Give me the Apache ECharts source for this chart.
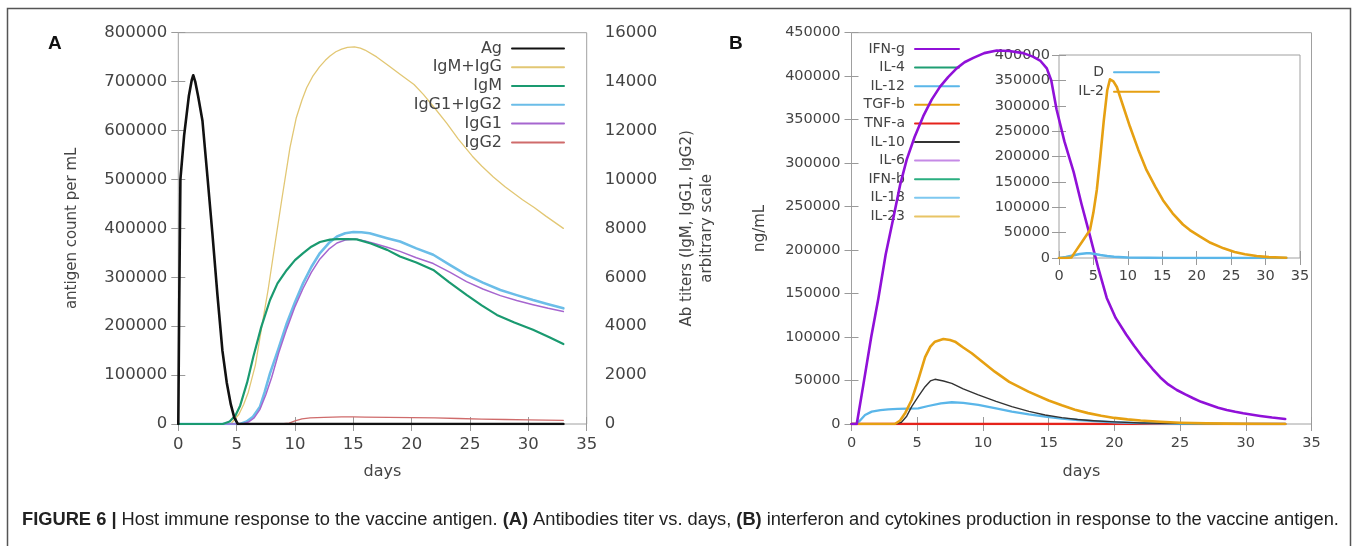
<!DOCTYPE html>
<html>
<head>
<meta charset="utf-8">
<script src="https://cdn.jsdelivr.net/npm/echarts@6/dist/echarts.min.js"></script>
<style>
html,body{margin:0;padding:0;background:#fff;}
#chart{width:1357px;height:546px;}
</style>
</head>
<body>
<div id="chart"></div>
<script>
// ---------- Panel A : antibody titers ----------
const agCount = [[0,0],[0.08,250000],[0.18,500000],[0.5,590000],[0.9,670000],[1.15,703000],[1.28,713000],[1.45,700000],[1.7,670000],[2.07,620000],[2.5,505000],[2.92,390000],[3.35,265000],[3.78,150000],[4.15,85000],[4.5,40000],[4.8,13000],[5.1,0],[33,0]];
const igmIgg = [[0,0],[4.5,0],[5.2,400],[5.6,800],[6.0,1300],[6.6,2400],[7.2,4100],[7.7,5500],[8.3,7400],[8.86,9150],[9.57,11300],[10.1,12500],[10.6,13250],[11,13750],[11.5,14200],[12.1,14600],[12.6,14870],[13,15050],[13.5,15220],[14,15330],[14.5,15400],[15.1,15420],[15.6,15370],[16,15290],[17,15010],[18,14660],[19,14300],[20.2,13880],[21,13480],[22,12900],[23,12300],[24,11650],[25.2,10950],[26,10550],[27,10100],[28,9700],[29.5,9170],[30.5,8850],[31.5,8500],[33,8000]];
const igm = [[0,0],[3.8,0],[4.4,100],[4.9,350],[5.3,750],[5.9,1700],[6.43,2750],[7.1,3950],[7.86,5070],[8.5,5750],[9.3,6300],[10,6700],[10.7,6990],[11.4,7250],[12.14,7440],[13,7540],[13.6,7560],[14.5,7560],[15.3,7550],[16.5,7380],[17.9,7120],[19,6850],[20.4,6600],[21.85,6300],[23.2,5800],[24.7,5280],[26,4850],[27.3,4460],[28.8,4150],[30.4,3850],[31.8,3550],[33,3270]];
const igg1igg2 = [[0,0],[5.3,0],[5.86,100],[6.4,300],[7.0,710],[7.4,1300],[7.86,2070],[8.6,3100],[9.3,4120],[10,4980],[10.7,5760],[11.4,6420],[12.14,6990],[12.9,7400],[13.6,7670],[14.3,7800],[15,7850],[15.7,7840],[16.4,7800],[17.9,7600],[19,7460],[20.4,7180],[21.85,6920],[23.3,6500],[24.7,6100],[26.1,5780],[27.6,5480],[29,5270],[30.4,5070],[31.7,4900],[33,4730]];
const igg1 = [[0,0],[5.5,0],[6.0,80],[6.5,250],[7.0,600],[7.5,1200],[8,1900],[8.6,2900],[9.3,3900],[10,4800],[10.7,5550],[11.4,6200],[12.14,6750],[12.9,7150],[13.6,7400],[14.3,7520],[15.2,7560],[16,7480],[16.8,7380],[17.9,7230],[19,7060],[20.4,6800],[21.85,6560],[23.3,6200],[24.7,5820],[26.1,5520],[27.6,5250],[29,5050],[30.4,4880],[31.7,4730],[33,4600]];
const igg2 = [[0,0],[8.8,0],[9.5,40],[10,130],[10.6,210],[11.3,250],[12.5,270],[14,290],[15,295],[16,285],[18,270],[20,260],[22,250],[24,225],[26,200],[28,185],[30,170],[33,150]];

// ---------- Panel B : cytokines ----------
const ifnG = [[0,0],[0.4,0],[0.9,45000],[1.5,100000],[2.04,144000],[2.6,195000],[3.2,238000],[3.7,275000],[4.2,304000],[4.8,330000],[5.46,354000],[6.1,373000],[6.74,388000],[7.35,399000],[8.0,409000],[8.6,416000],[9.27,421000],[10.1,426500],[11.05,429500],[12,429000],[13.07,426500],[13.8,422500],[14.35,418000],[14.86,409000],[15.2,395000],[15.6,362000],[16.2,325000],[16.9,290000],[17.5,253000],[18.15,216000],[18.8,178000],[19.42,145000],[20.1,122000],[20.9,103000],[21.5,90000],[22.2,76000],[22.9,63500],[23.5,53500],[24.1,45500],[24.75,39100],[25.4,34000],[26,29600],[26.6,25500],[27.3,21800],[27.9,18800],[28.55,16100],[29.2,14000],[29.8,12300],[30.5,10600],[31.1,9200],[32,7400],[33,5800]];
const tgfB = [[0,0],[3.3,0],[3.7,4000],[4.1,13000],[4.58,27600],[5.1,52000],[5.6,77000],[6.0,89000],[6.35,94700],[6.99,97800],[7.5,96500],[7.88,94700],[8.5,88000],[9.15,81400],[10,71000],[10.9,60200],[12,48500],[13.46,37200],[15,27000],[16,21500],[17,16500],[18,12500],[19,9400],[20,7000],[21,5300],[22,4000],[23.5,2600],[25,1500],[27,700],[30,200],[33,0]];
const il10 = [[0,0],[3.3,0],[3.8,2000],[4.2,9000],[4.58,19900],[5.1,32000],[5.6,42900],[6.0,49500],[6.35,51400],[7.0,49500],[7.63,46800],[8.5,40500],[9.65,33400],[11,26000],[12.2,19900],[13.5,14500],[14.73,10400],[16,7300],[17.2,5200],[18.4,3800],[20,2400],[22,1200],[25,400],[28,100],[33,0]];
const il12 = [[0,0],[0.4,0],[0.7,5000],[1.03,10400],[1.54,14200],[2.2,16000],[2.8,16900],[3.5,17300],[4.3,17700],[5.08,18000],[5.84,20700],[6.8,23800],[7.63,25000],[8.5,24200],[9.65,21900],[11,18000],[12.2,14200],[13.5,11000],[14.73,8400],[16,6200],[17.26,4600],[18.5,3300],[20,2000],[22,1000],[25,300],[28,100],[33,0]];
const il4 = [[0,0],[33,0]];
const tnfA = [[0,0],[33,0]];
const il6 = [[0,0],[33,0]];
const ifnB = [[0,0],[33,0]];
const il18 = [[0,0],[33,0]];
const il23 = [[0,0],[33,0]];

// ---------- Panel B inset ----------
const dInset = [[0,0],[1,2000],[2,5000],[3,8000],[4,9300],[4.5,9300],[5,8500],[6,6000],[7,4000],[8,2500],[10,1000],[13,300],[16,0],[33,0]];
const il2 = [[0,0],[1,0],[1.8,1000],[2.5,15000],[3.5,35000],[4.5,55000],[5.0,90000],[5.5,135000],[6.0,200000],[6.5,270000],[7.0,330000],[7.4,352000],[7.9,348000],[8.4,337000],[9.3,300000],[10.3,259000],[11.5,214000],[12.7,173500],[14,140000],[15.1,114000],[16.5,88000],[18,66000],[19,55000],[20.5,42000],[22,30000],[23.9,19000],[25.5,12000],[27,7500],[28.7,3900],[30.5,1800],[33,500]];

const legendA = ['Ag','IgM+IgG','IgM','IgG1+IgG2','IgG1','IgG2'];
const legendB = ['IFN-g','IL-4','IL-12','TGF-b','TNF-a','IL-10','IL-6','IFN-b','IL-18','IL-23'];
const legendInset = ['D','IL-2'];
const captionText = '{b|FIGURE 6 |} Host immune response to the vaccine antigen. {b|(A)} Antibodies titer vs. days, {b|(B)} interferon and cytokines production in response to the vaccine antigen.';

const FONT = 'DejaVu Sans';
const TXT = '#444';
const TICK = '#9a9a9a';

function xAx(grid, pos, show, fs, margin, name) {
  return {
    type:'value', gridIndex:grid, position:pos, min:0, max:35, interval:5,
    axisLine:{show:false},
    axisTick:{show:true, inside:true, length:7, lineStyle:{color:TICK}},
    axisLabel:{show:show, fontFamily:FONT, fontSize:fs, color:TXT, margin:margin, formatter:v=>String(v)},
    splitLine:{show:false},
    name: name || '', nameLocation:'middle', nameGap:40,
    nameTextStyle:{fontFamily:FONT, fontSize:16, color:TXT}
  };
}
function yAx(grid, pos, max, interval, show, fs, margin, name, nameGap) {
  return {
    type:'value', gridIndex:grid, position:pos, min:0, max:max, interval:interval,
    axisLine:{show:false},
    axisTick:{show:true, inside:true, length:7, lineStyle:{color:TICK}},
    axisLabel:{show:show, fontFamily:FONT, fontSize:fs, color:TXT, margin:margin, formatter:v=>String(v)},
    splitLine:{show:false},
    name: name || '', nameLocation:'middle', nameGap:nameGap || 0, nameRotate:90,
    nameTextStyle:{fontFamily:FONT, fontSize:15, color:TXT, lineHeight:20}
  };
}
function line(name, data, color, width, xi, yi, z) {
  return {
    type:'line', name:name, data:data, xAxisIndex:xi, yAxisIndex:yi,
    showSymbol:false, symbol:'none', smooth:false,
    lineStyle:{color:color, width:width, join:'round', cap:'round'}, itemStyle:{color:color},
    z: z || 2, animation:false
  };
}
function legend(data, right, top, itemWidth, fs, lh) {
  return {
    data:data, orient:'vertical', align:'right', right:right, top:top,
    itemWidth:itemWidth, itemHeight:10, itemGap:0, padding:0, selectedMode:false,
    itemStyle:{opacity:0, borderWidth:0},
    textStyle:{fontFamily:FONT, fontSize:fs, color:TXT, lineHeight:lh, padding:[0,5,0,0]}
  };
}

const chart = echarts.init(document.getElementById('chart'), null, {renderer:'canvas'});
const option = {
  backgroundColor:'#fff',
  animation:false,
  grid:[
    {left:178.3, top:32.7, width:408.4, height:391.3, show:true, borderColor:'#a0a0a0', borderWidth:1, backgroundColor:'transparent'},
    {left:851.5, top:32.7, width:460, height:391.3, show:true, borderColor:'#a0a0a0', borderWidth:1, backgroundColor:'transparent'},
    {left:1059, top:55, width:241, height:203, show:true, borderColor:'#a0a0a0', borderWidth:1, backgroundColor:'transparent'}
  ],
  xAxis:[
    xAx(0,'bottom',true,16.5,12,'days'),
    xAx(0,'top',false,16.5,12),
    xAx(1,'bottom',true,14.5,12,'days'),
    xAx(1,'top',false,14.5,12),
    xAx(2,'bottom',true,14.5,11),
    xAx(2,'top',false,14.5,11)
  ],
  yAxis:[
    yAx(0,'left',800000,100000,true,16.5,11,'antigen count per mL',96),
    yAx(0,'right',16000,2000,true,16.5,18,'Ab titers (IgM, IgG1, IgG2)\narbitrary scale',90),
    yAx(1,'left',450000,50000,true,14.5,11,'ng/mL',81),
    yAx(1,'right',450000,50000,false,14.5,11),
    yAx(2,'left',400000,50000,true,14.5,9),
    yAx(2,'right',400000,50000,false,14.5,9)
  ],
  legend:[
    legend(legendA, 792, 39, 52, 16, 18.8),
    legend(legendB, 397, 39.7, 44, 14, 18.6),
    legend(legendInset, 197, 62.6, 45, 14, 19.4)
  ],
  series:[
    line('IgG2', igg2, '#cf6b6b', 1.3, 0, 1, 2),
    line('IgM+IgG', igmIgg, '#e2c774', 1.3, 0, 1, 3),
    line('IgG1+IgG2', igg1igg2, '#6bbde8', 2.6, 0, 1, 4),
    line('IgG1', igg1, '#a666cf', 1.5, 0, 1, 5),
    line('IgM', igm, '#1a9a70', 2.2, 0, 1, 6),
    line('Ag', agCount, '#111111', 2.6, 0, 0, 7),

    line('IL-4', il4, '#1f9e73', 2, 2, 2, 2),
    line('IL-6', il6, '#c58ae6', 1.5, 2, 2, 2),
    line('IFN-b', ifnB, '#2aae80', 1.5, 2, 2, 2),
    line('IL-18', il18, '#7ec8f0', 1.5, 2, 2, 2),
    line('IL-23', il23, '#e8c465', 1.5, 2, 2, 2),
    line('TNF-a', tnfA, '#e5231b', 2.5, 2, 2, 3),
    line('IL-12', il12, '#5ab6e9', 2.3, 2, 2, 4),
    line('IL-10', il10, '#333333', 1.4, 2, 2, 5),
    line('TGF-b', tgfB, '#e6a012', 2.6, 2, 2, 6),
    line('IFN-g', ifnG, '#9010d8', 2.6, 2, 2, 7),

    line('D', dInset, '#5ab6e9', 2.5, 4, 4, 8),
    line('IL-2', il2, '#e6a012', 2.6, 4, 4, 9)
  ],
  graphic:[
    {type:'rect', shape:{x:7.5, y:8.5, width:1343, height:545}, style:{fill:'none', stroke:'#555', lineWidth:1.5}, silent:true},
    {type:'text', left:48, top:34, style:{text:'A', font:'bold 19px "Liberation Sans", Arial, sans-serif', fill:'#111'}},
    {type:'text', left:729, top:34, style:{text:'B', font:'bold 19px "Liberation Sans", Arial, sans-serif', fill:'#111'}},
    {type:'text', left:22, top:511, style:{
      text:captionText,
      font:'18.3px "Liberation Sans", Arial, sans-serif', fill:'#222',
      rich:{b:{fontWeight:'bold', fontSize:18.3, fontFamily:'"Liberation Sans", Arial, sans-serif', fill:'#222'}}
    }}
  ]
};
chart.setOption(option);
</script>
</body>
</html>
